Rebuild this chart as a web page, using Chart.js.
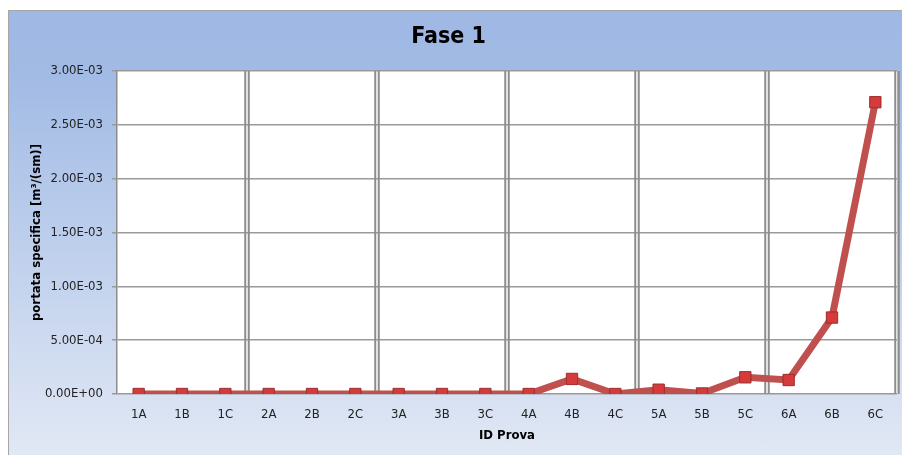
<!DOCTYPE html>
<html>
<head>
<meta charset="utf-8">
<script src="https://cdn.jsdelivr.net/npm/chart.js@4.4.0/dist/chart.umd.min.js"></script>
<style>
  html, body { margin: 0; padding: 0; background: #fff; overflow: hidden; }
  #frame {
    position: absolute; left: 8px; top: 10px; width: 920px; height: 470px;
    border: 1px solid #a6a6a6;
    background: linear-gradient(#9fb8e4 0%, #a2bbe5 14%, #e5ebf6 100%);
  }
  #wrap { position: absolute; left: 0; top: 0; width: 902px; height: 455px; }
</style>
</head>
<body>
<div id="frame"></div>
<div id="wrap"><canvas id="chart"></canvas></div>
<script>
// data
const labels = ['1A','1B','1C','2A','2B','2C','3A','3B','3C','4A','4B','4C','5A','5B','5C','6A','6B','6C'];
const portata = [0, 0, 0, 0, 0, 0, 0, 0, 0, 0, 1.4e-4, 0, 4e-5, 5e-6, 1.55e-4, 1.3e-4, 7.1e-4, 2.71e-3];
const yTicks = [0, 5e-4, 1e-3, 1.5e-3, 2e-3, 2.5e-3, 3e-3];
const groupSize = 3;

const FONT = '"Liberation Sans Narrow", "DejaVu Sans Condensed", "Arial Narrow", sans-serif';

function fmtExp(v) {
  const [m, e] = v.toExponential(2).split('e');
  const sign = e[0] === '-' ? '-' : '+';
  return m + 'E' + sign + e.replace(/^[+-]/, '').padStart(2, '0');
}

// white plot area + double separators between groups of tests
const plotBg = {
  id: 'plotBg',
  beforeDraw(chart) {
    const { ctx, chartArea: a } = chart;
    ctx.save();
    ctx.fillStyle = '#ffffff';
    ctx.fillRect(a.left, a.top, a.right - a.left, a.bottom - a.top);
    ctx.restore();
  },
  beforeDatasetsDraw(chart) {
    const { ctx, chartArea: a, scales: { x } } = chart;
    const step = x.getPixelForValue(1) - x.getPixelForValue(0);
    ctx.save();
    ctx.strokeStyle = '#8c8c8c';
    ctx.lineWidth = 2;
    for (let i = groupSize; i <= labels.length; i += groupSize) {
      const cx = x.getPixelForValue(i - 1) + step / 2;
      [-1.75, 1.75].forEach(d => {
        ctx.beginPath();
        ctx.moveTo(cx + d, a.top);
        ctx.lineTo(cx + d, a.bottom);
        ctx.stroke();
      });
    }
    ctx.restore();
  }
};

new Chart(document.getElementById('chart'), {
  type: 'line',
  data: {
    labels,
    datasets: [{
      label: 'portata specifica',
      data: portata,
      borderColor: '#c0504d',
      borderWidth: 7,
      tension: 0,
      pointStyle: 'rect',
      pointRadius: 8,
      pointHoverRadius: 8,
      pointBackgroundColor: '#d63b3b',
      pointBorderColor: '#9e2b2b',
      pointBorderWidth: 1
    }]
  },
  options: {
    responsive: true,
    maintainAspectRatio: false,
    animation: false,
    layout: { autoPadding: false, padding: { left: 0, right: 5, top: 0, bottom: 0 } },
    plugins: {
      legend: { display: false },
      tooltip: { enabled: false },
      title: {
        display: true,
        text: 'Fase 1',
        color: '#000',
        font: { family: FONT, size: 23, weight: 'bold', lineHeight: 1.2 },
        padding: { top: 23, bottom: 20.4 }
      }
    },
    scales: {
      x: {
        offset: true,
        grid: { display: false },
        border: { display: false },
        ticks: { color: '#222', font: { family: FONT, size: 13 }, padding: 5, maxRotation: 0, autoSkip: false },
        title: {
          display: true, text: 'ID Prova', color: '#000',
          font: { family: FONT, size: 13, weight: 'bold' },
          padding: { top: 0, bottom: 12 }
        },
        afterFit(s) { s.height = 61; }
      },
      y: {
        min: 0, max: 3e-3,
        afterBuildTicks(s) { s.ticks = yTicks.map(v => ({ value: v })); },
        grid: { color: '#9a9a9a', lineWidth: 1.5, tickLength: 5 },
        border: { display: true, color: '#8c8c8c', width: 1.5 },
        ticks: { color: '#222', font: { family: FONT, size: 13 }, padding: 9, callback: v => fmtExp(v) },
        title: {
          display: true, text: 'portata specifica [m³/(sm)]', color: '#000',
          font: { family: FONT, size: 13, weight: 'bold' },
          padding: { top: 29, bottom: 0 }
        },
        afterFit(s) { s.width = 117; }
      }
    }
  },
  plugins: [plotBg]
});
</script>
</body>
</html>
